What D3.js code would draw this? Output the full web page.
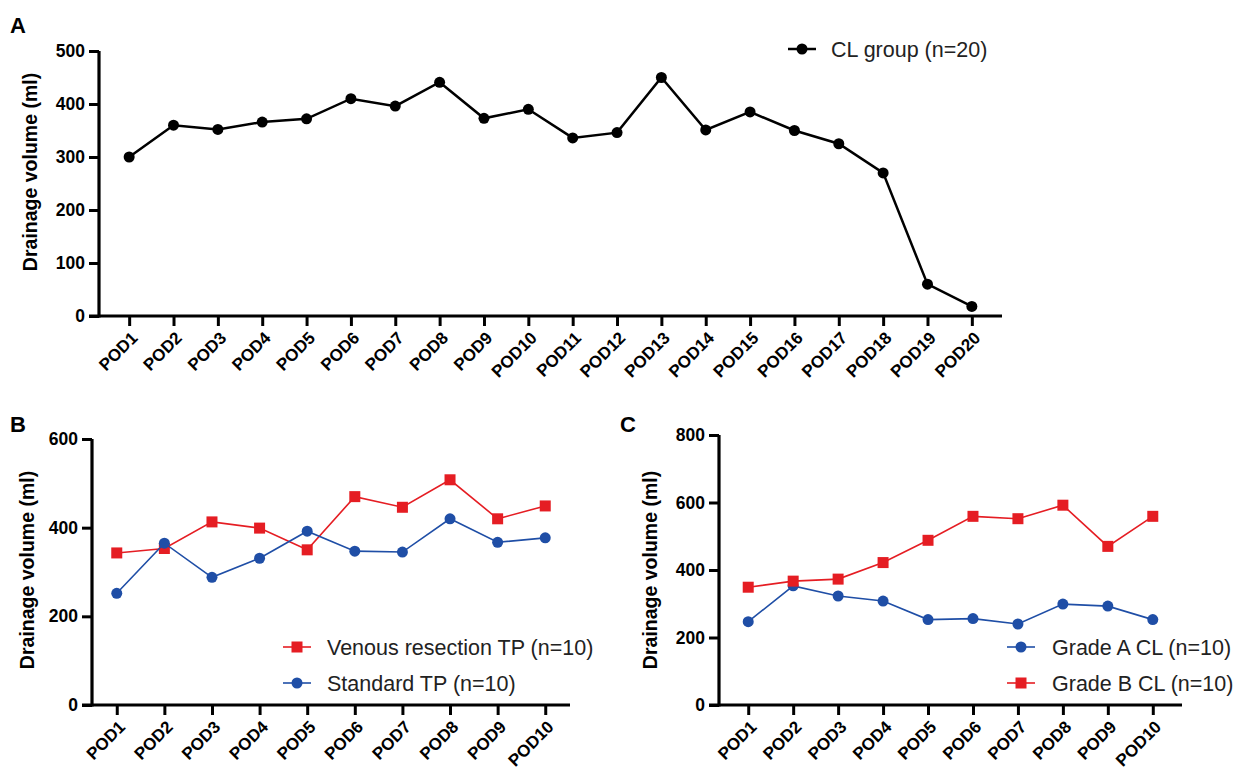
<!DOCTYPE html>
<html>
<head>
<meta charset="utf-8">
<script src="https://cdn.jsdelivr.net/npm/d3@7"></script>
<style>
  body { margin: 0; background: #fff; }
  svg { display: block; font-family: "Liberation Sans", Arial, sans-serif; }
</style>
</head>
<body>
<svg id="chart" width="1243" height="778"></svg>
<script>
// ---- Data ----
const podsA = ["POD1","POD2","POD3","POD4","POD5","POD6","POD7","POD8","POD9","POD10",
               "POD11","POD12","POD13","POD14","POD15","POD16","POD17","POD18","POD19","POD20"];
const clGroup = [300, 360, 352, 366, 372, 410, 396, 441, 373, 390, 336, 346, 450, 351, 385, 350, 325, 270, 60, 18];

const podsBC = ["POD1","POD2","POD3","POD4","POD5","POD6","POD7","POD8","POD9","POD10"];
const venousTP   = [343, 353, 413, 399, 350, 470, 446, 508, 420, 449];
const standardTP = [252, 365, 288, 331, 392, 347, 345, 420, 367, 377];
const gradeA = [247, 353, 323, 308, 253, 256, 240, 299, 293, 253];
const gradeB = [349, 367, 373, 422, 488, 559, 552, 592, 470, 559];

const ticksA = [0, 100, 200, 300, 400, 500];
const ticksB = [0, 200, 400, 600];
const ticksC = [0, 200, 400, 600, 800];

const RED = "#e51d23", BLUE = "#1f4ea6", BLACK = "#000";

const svg = d3.select("#chart");

function panel(cfg) {
  const g = svg.append("g");
  const x = d3.scalePoint().domain(cfg.cats).range([cfg.x0, cfg.x1]).padding(cfg.pad);
  const y = d3.scaleLinear().domain([0, cfg.ymax]).range([cfg.y0, cfg.y1]);

  // y axis
  const ya = g.append("g").attr("transform", `translate(${cfg.x0},0)`)
    .call(d3.axisLeft(y).tickValues(cfg.yticks).tickSize(10).tickPadding(4).tickSizeOuter(0));
  ya.select(".domain").attr("stroke", "#000").attr("stroke-width", 3.2)
    .attr("d", `M0,${cfg.y0 + 1.5}V${cfg.y1}`);
  ya.selectAll(".tick line").attr("stroke", "#000").attr("stroke-width", 3);
  ya.selectAll(".tick text").attr("font-size", 17.5).attr("font-weight", "bold").attr("fill", "#000")
    .attr("font-family", "Liberation Sans, Arial, sans-serif");

  // x axis
  const xa = g.append("g").attr("transform", `translate(0,${cfg.y0})`)
    .call(d3.axisBottom(x).tickSize(10).tickSizeOuter(0));
  xa.select(".domain").attr("stroke", "#000").attr("stroke-width", 3.2)
    .attr("d", `M${cfg.x0 - 10},0H${cfg.x1}`);
  xa.selectAll(".tick line").attr("stroke", "#000").attr("stroke-width", 3);
  xa.selectAll(".tick text")
    .attr("font-size", 17).attr("font-weight", "bold").attr("fill", "#000")
    .attr("font-family", "Liberation Sans, Arial, sans-serif")
    .attr("text-anchor", "end")
    .attr("dy", null).attr("y", null)
    .attr("transform", "translate(9,23) rotate(-45)");

  // y title
  g.append("text")
    .attr("transform", `translate(${cfg.titleX},${cfg.titleY}) rotate(-90)`)
    .attr("text-anchor", "middle")
    .attr("font-size", 19.5).attr("font-weight", "bold")
    .text("Drainage volume (ml)");

  // panel letter
  g.append("text").attr("x", cfg.letterX).attr("y", cfg.letterY)
    .attr("font-size", 22).attr("font-weight", "bold").text(cfg.letter);

  // series
  cfg.series.forEach(s => {
    const line = d3.line().x((d, i) => x(cfg.cats[i])).y(d => y(d));
    g.append("path").datum(s.values).attr("d", line)
      .attr("fill", "none").attr("stroke", s.color).attr("stroke-width", s.lw);
    drawMarkers(g, s.values.map((v, i) => [x(cfg.cats[i]), y(v)]), s);
  });

  // legend
  cfg.legend.forEach((L, i) => {
    const s = cfg.series[L.idx];
    const cy = L.y;
    g.append("line").attr("x1", L.x - 14).attr("x2", L.x + 14).attr("y1", cy).attr("y2", cy)
      .attr("stroke", s.color).attr("stroke-width", s.lw);
    drawMarkers(g, [[L.x, cy]], s);
    g.append("text").attr("x", L.tx).attr("y", cy + 7.5)
      .attr("font-size", 21.5).attr("fill", "#222").text(s.name);
  });
}

function drawMarkers(g, pts, s) {
  if (s.shape === "square") {
    g.selectAll(null).data(pts).enter().append("rect")
      .attr("x", d => d[0] - s.size / 2).attr("y", d => d[1] - s.size / 2)
      .attr("width", s.size).attr("height", s.size).attr("fill", s.color);
  } else {
    g.selectAll(null).data(pts).enter().append("circle")
      .attr("cx", d => d[0]).attr("cy", d => d[1]).attr("r", s.size / 2).attr("fill", s.color);
  }
}

panel({
  cats: podsA, x0: 99, x1: 1002, pad: 0.68, y0: 316, y1: 51, ymax: 500, yticks: ticksA,
  titleX: 37, titleY: 172, letter: "A", letterX: 10, letterY: 33,
  series: [{ name: "CL group (n=20)", values: clGroup, color: BLACK, lw: 2.5, shape: "circle", size: 11 }],
  legend: [{ idx: 0, x: 802, y: 49, tx: 831 }]
});

panel({
  cats: podsBC, x0: 92, x1: 570, pad: 0.52, y0: 705, y1: 439, ymax: 600, yticks: ticksB,
  titleX: 34, titleY: 570, letter: "B", letterX: 10, letterY: 432,
  series: [
    { name: "Venous resection TP (n=10)", values: venousTP, color: RED, lw: 1.6, shape: "square", size: 11 },
    { name: "Standard TP (n=10)", values: standardTP, color: BLUE, lw: 1.6, shape: "circle", size: 11 }
  ],
  legend: [{ idx: 0, x: 297, y: 647, tx: 327 }, { idx: 1, x: 297, y: 683, tx: 327 }]
});

panel({
  cats: podsBC, x0: 719, x1: 1182, pad: 0.65, y0: 705, y1: 435, ymax: 800, yticks: ticksC,
  titleX: 657, titleY: 570, letter: "C", letterX: 620, letterY: 432,
  series: [
    { name: "Grade A CL (n=10)", values: gradeA, color: BLUE, lw: 1.6, shape: "circle", size: 11 },
    { name: "Grade B CL (n=10)", values: gradeB, color: RED, lw: 1.6, shape: "square", size: 11 }
  ],
  legend: [{ idx: 0, x: 1021, y: 647, tx: 1052 }, { idx: 1, x: 1021, y: 683, tx: 1052 }]
});
</script>
</body>
</html>
